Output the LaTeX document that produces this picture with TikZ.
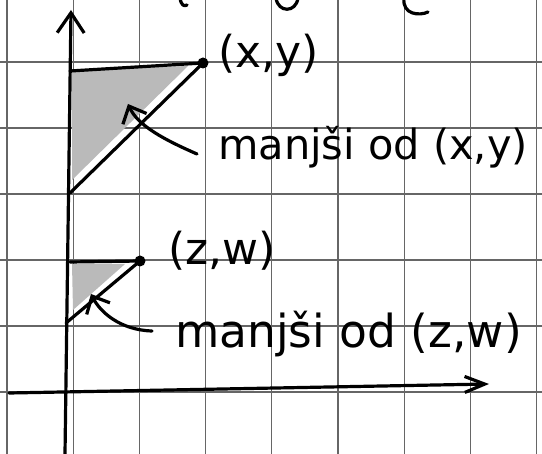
\documentclass[tikz,border=0pt]{standalone}
\usepackage{fontspec}
\setmainfont{DejaVu Sans}
\usetikzlibrary{arrows.meta}
\begin{document}
\begin{tikzpicture}[x=1pt,y=-1pt,
  gridline/.style={draw=black!60,line width=1.2pt},
  pen/.style={line width=3.2pt,line cap=round,line join=round},
  shadefill/.style={fill=black!27},
  lbl/.style={font=\fontsize{44}{50}\selectfont,inner sep=0pt,anchor=base west},
  barb/.style={-{Straight Barb[length=14pt,width=26pt,line width=3.2pt]}},
  axisbarb/.style={-{Straight Barb[length=20pt,width=27pt,line width=3.2pt]}},
  xbarb/.style={-{Straight Barb[length=20pt,width=16pt,line width=3.2pt]}},
  dot/.style={circle,fill=black,inner sep=0pt,minimum size=11pt}]
\useasboundingbox (0,0) rectangle (542,454);
\fill[white] (0,0) rectangle (542,454);
\begin{scope}
\clip (0,0) rectangle (542,454);
% grid
\foreach \i in {0,...,8} \draw[gridline] ({7+66.2*\i},0) -- ({7+66.2*\i},454);
\foreach \j in {0,...,6} \draw[gridline] (0,{62+66*\j}) -- (542,{62+66*\j});
% cut-off handwriting at the top
\draw[pen] (180,-2) .. controls (181,5) and (184,7) .. (187,5);
\draw[pen] (276,-2) .. controls (278,13) and (296,13) .. (298,-2);
\draw[pen] (404,-2) .. controls (402,15) and (420,16) .. (428,12);
\end{scope}
% shaded regions
\fill[shadefill] (72,70) -- (188,66) -- (72,180) -- cycle;
\fill[shadefill] (72,264) -- (125,264) -- (73,310) -- cycle;
% axes
\coordinate (ybot) at (65,454);
\coordinate (ytop) at (71,10);
\coordinate (xleft) at (9,393);
\coordinate (xright) at (489,384);
\draw[pen,axisbarb] (ybot) -- (ytop);
\draw[pen,xbarb] (xleft) -- (xright);
% upper triangle
\coordinate (A0) at (70,71);
\coordinate (A2) at (70,193);
\node[dot] (A1) at (203,63) {};
\draw[pen] (A0) -- (A1.center) -- (A2);
\node[lbl] (Alab) at (218,68) {(x,y)};
\node[lbl,font=\fontsize{41.5}{48}\selectfont] (Atext) at (218,160) {manjši od (x,y)};
\coordinate (At) at (197,154);
\coordinate (Ah) at (128,104);
\draw[pen,barb] (At) .. controls (165,140) and (138,126) .. (Ah);
% lower triangle
\coordinate (B0) at (70,262);
\coordinate (B2) at (66,323);
\node[dot] (B1) at (140,261) {};
\draw[pen] (B0) -- (B1.center) -- (B2);
\node[lbl] (Blab) at (168,265) {(z,w)};
\node[lbl,font=\fontsize{45.5}{52}\selectfont] (Btext) at (175,348) {manjši od (z,w)};
\coordinate (Bt) at (152,331);
\coordinate (Bh) at (91,294);
\draw[pen,barb] (Bt) .. controls (120,330) and (100,312) .. (Bh);
\end{tikzpicture}
\end{document}
